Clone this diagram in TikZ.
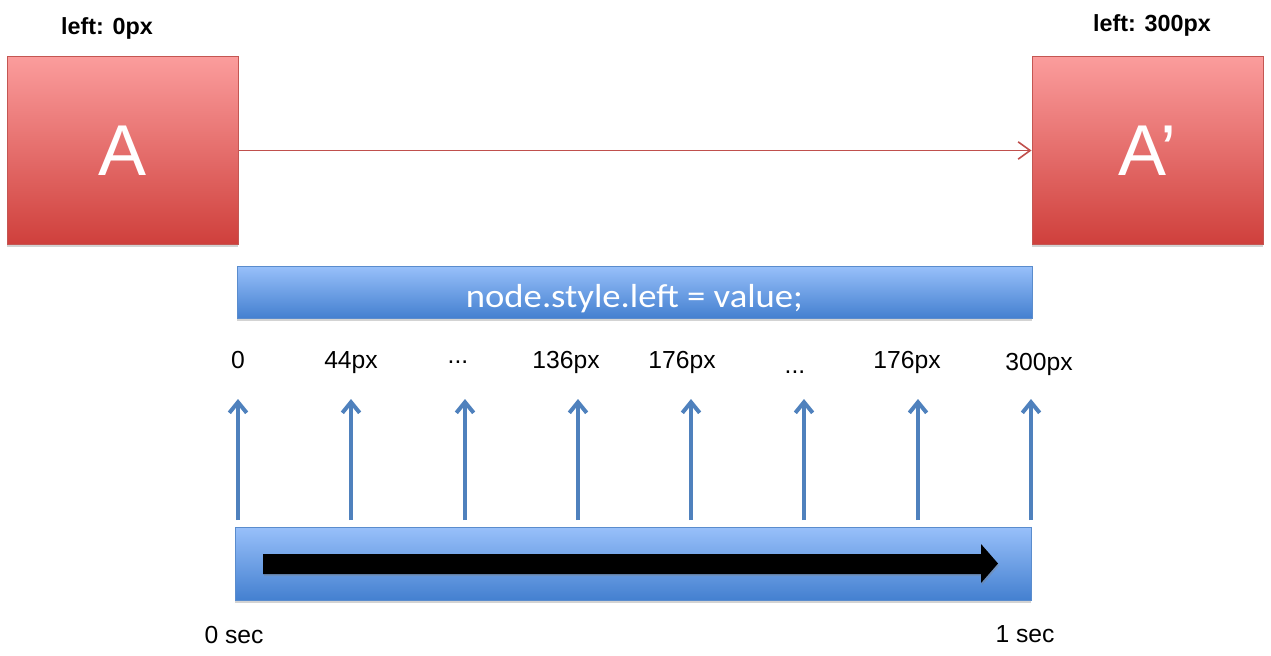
\documentclass[tikz,border=0pt]{standalone}
\usepackage{fontspec}
\setmainfont{Liberation Sans}
\newfontfamily\calibri[FakeStretch=1.1]{Carlito}
\usetikzlibrary{arrows.meta,shadows}
\definecolor{redtop}{RGB}{251,156,156}
\definecolor{redbot}{RGB}{207,64,60}
\definecolor{redline}{RGB}{192,80,77}
\definecolor{redborder}{RGB}{196,86,82}
\definecolor{bluetop}{RGB}{152,192,250}
\definecolor{bluebot}{RGB}{68,128,208}
\definecolor{blueborder}{RGB}{90,140,205}
\definecolor{blueline}{RGB}{79,129,189}
\begin{document}
\begin{tikzpicture}[x=0.75pt,y=-0.75pt,
  shade/.style={drop shadow={shadow xshift=0pt,shadow yshift=-2.2pt,opacity=0.35}},
  redbox/.style={shade,draw=redborder,line width=0.75pt,top color=redtop,bottom color=redbot,
    minimum width=173.25pt,minimum height=140.25pt,inner sep=0pt,text=white,
    font=\fontsize{54}{60}\selectfont},
  bluebar/.style={shade,draw=blueborder,line width=0.75pt,top color=bluetop,bottom color=bluebot,inner sep=0pt},
  poslabel/.style={anchor=base,font=\fontsize{17.5}{20}\selectfont\bfseries},
  valabel/.style={anchor=base,font=\fontsize{18.5}{22}\selectfont},
  movearrow/.style={draw=redline,line width=1.2pt,-{Straight Barb[length=9pt,width=13pt]}},
  tickarrow/.style={draw=blueline,line width=3pt,-{Straight Barb[length=8pt,width=13pt]}}
]
\useasboundingbox (0,0) rectangle (1271,656);

% boxes
\node[redbox] (A) at (122.5,150.5) {A};
\node[redbox] (Ap) at (1147.5,150.5) {A’};
\node[poslabel] (lA) at (107,35) {left: 0px};
\node[poslabel] (lAp) at (1152,32) {left: 300px};
\draw[movearrow] (A.east) -- (Ap.west);

% code bar
\node[bluebar,minimum width=596.25pt,minimum height=39pt,text=white,
  font=\calibri\fontsize{25}{29}\selectfont,text height=23pt,text depth=0pt]
  (code) at (634.5,292) {node.style.left = value;};

% values
\node[valabel] (v1) at (238,368) {0};
\node[valabel] (v2) at (351,368) {44px};
\node[valabel] (v3) at (458,363) {...};
\node[valabel] (v4) at (566,368) {136px};
\node[valabel] (v5) at (682,368) {176px};
\node[valabel] (v6) at (795,373) {...};
\node[valabel] (v7) at (907,368) {176px};
\node[valabel] (v8) at (1039,370) {300px};

% tick arrows
\foreach \i/\x in {1/238,2/351,3/465,4/578,5/691,6/804,7/918,8/1031}{
  \coordinate (b\i) at (\x,520);
  \coordinate (t\i) at (\x,399);
  \draw[tickarrow] (b\i) -- (t\i);
}

% time bar
\node[bluebar,minimum width=597pt,minimum height=54.75pt] (time) at (633,563.5) {};
\path[fill=black,drop shadow={shadow xshift=0.8pt,shadow yshift=-1.5pt,opacity=0.35}]
  (263,554) -- (981,554) -- (981,544) -- (998,563.5) -- (981,583) -- (981,574) -- (263,574) -- cycle;

\node[valabel] (s0) at (234,643) {0 sec};
\node[valabel] (s1) at (1025,642) {1 sec};
\end{tikzpicture}
\end{document}
